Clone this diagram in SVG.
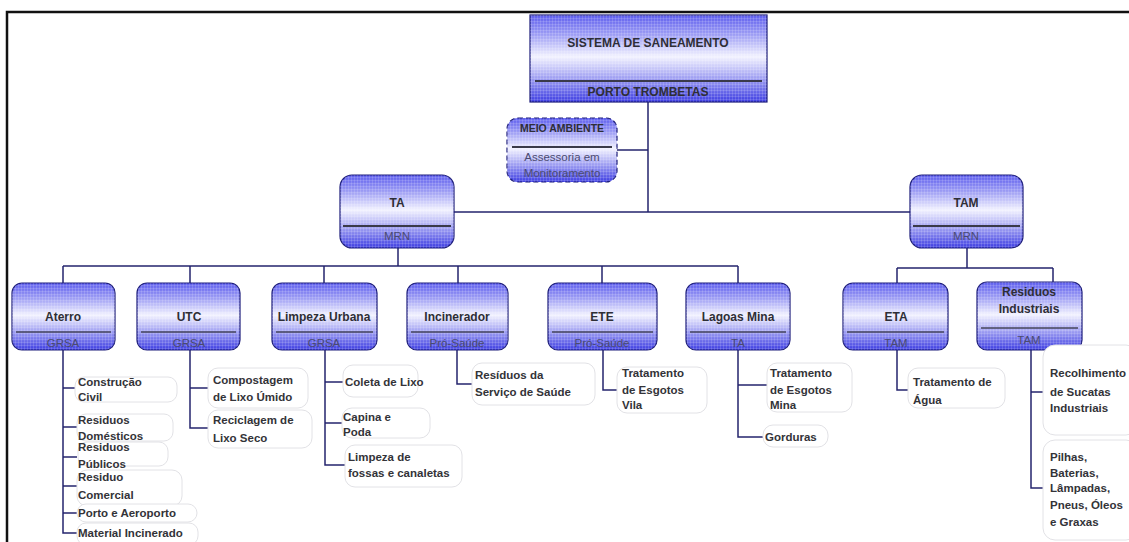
<svg xmlns="http://www.w3.org/2000/svg" width="1129" height="542" viewBox="0 0 1129 542">
<defs>
<linearGradient id="g" x1="0" y1="0" x2="0" y2="1">
<stop offset="0" stop-color="#5e5eee"/>
<stop offset="0.22" stop-color="#9c9cf4"/>
<stop offset="0.48" stop-color="#f2f2ff"/>
<stop offset="0.62" stop-color="#c4c4f8"/>
<stop offset="1" stop-color="#3e3ee2"/>
</linearGradient>
<pattern id="chk" width="3" height="3" patternUnits="userSpaceOnUse">
<rect width="1" height="3" fill="#ffffff" opacity="0.14"/>
<rect width="3" height="1" fill="#ffffff" opacity="0.14"/>
</pattern>
<style>
.box{fill:url(#g);stroke:#1c1c7a;stroke-width:1.2}
.tex{fill:url(#chk);stroke:none}
.div{stroke:#3a3a4a;stroke-width:2}
.div2{stroke:#44445a;stroke-width:1.3}
.t{font-family:"Liberation Sans",Arial,sans-serif;font-weight:bold;fill:#2e2e36;text-anchor:middle}
.s{font-family:"Liberation Sans",Arial,sans-serif;fill:#4a4a70;text-anchor:middle;font-size:11.5px}
.lf{fill:#ffffff;stroke:#e2e2e6;stroke-width:1}
.lt{font-family:"Liberation Sans",Arial,sans-serif;font-weight:bold;fill:#333338;font-size:11.5px}
.c{fill:none;stroke:#24246e;stroke-width:1.5}
</style>
</defs>
<rect width="1129" height="542" fill="#ffffff"/>
<path d="M7,542 V12 H1129" fill="none" stroke="#111" stroke-width="2.5"/>

<g id="connectors">
<path class="c" d="M648,102 V212 M617,150 H648 M454,212 H910"/>
<path class="c" d="M398,248 V266 M63,266 H738 M63,266 V283 M190,266 V283 M324,266 V283 M458,266 V283 M602,266 V283 M738,266 V283"/>
<path class="c" d="M967,248 V268 M897,268 H1053 M897,268 V283 M1053,268 V282"/>
<path class="c" d="M63,348 V533 H77 M63,388 H77 M63,427 H77 M63,457 H77 M63,486 H77 M63,513 H77"/>
<path class="c" d="M190,348 V428 H208 M190,388 H208"/>
<path class="c" d="M325,350 V465 H345 M325,382 H343 M325,423 H342"/>
<path class="c" d="M457,350 V384 H473"/>
<path class="c" d="M603,350 V390 H620"/>
<path class="c" d="M738,350 V437 H763 M738,385 H767"/>
<path class="c" d="M897,350 V390 H910"/>
<path class="c" d="M1031,350 V488 H1043 M1031,392 H1043"/>
</g>

<g id="sistema">
<rect class="box" x="530" y="15" width="237" height="87"/>
<rect class="tex" x="530" y="15" width="237" height="87"/>
<line class="div" x1="535" y1="81" x2="762" y2="81"/>
<text class="t" x="648" y="47" font-size="12">SISTEMA DE SANEAMENTO</text>
<text class="t" x="648" y="96" font-size="12" fill="#3a3a50">PORTO TROMBETAS</text>
</g>

<g id="meio-ambiente">
<rect class="box" x="507" y="118" width="110" height="64" rx="11" stroke-dasharray="5,3"/>
<rect class="tex" x="507" y="118" width="110" height="64" rx="11"/>
<line class="div" x1="512" y1="147" x2="612" y2="147"/>
<text class="t" x="562" y="132" font-size="10.5">MEIO AMBIENTE</text>
<text class="s" x="562" y="161" font-size="10" fill="#33334a">Assessoria em</text>
<text class="s" x="562" y="177" font-size="10" fill="#33334a">Monitoramento</text>
</g>

<g id="ta">
<rect class="box" x="340" y="175" width="114" height="73" rx="12"/>
<rect class="tex" x="340" y="175" width="114" height="73" rx="12"/>
<line class="div" x1="343" y1="226" x2="451" y2="226"/>
<text class="t" x="397" y="207" font-size="12">TA</text>
<text class="s" x="397" y="240">MRN</text>
</g>

<g id="tam">
<rect class="box" x="910" y="175" width="113" height="73" rx="12"/>
<rect class="tex" x="910" y="175" width="113" height="73" rx="12"/>
<line class="div" x1="913" y1="226" x2="1020" y2="226"/>
<text class="t" x="966" y="207" font-size="12">TAM</text>
<text class="s" x="966" y="240">MRN</text>
</g>

<g id="aterro">
<rect class="box" x="12" y="283" width="103" height="67" rx="10"/>
<rect class="tex" x="12" y="283" width="103" height="67" rx="10"/>
<line class="div2" x1="16" y1="332" x2="111" y2="332"/>
<text class="t" x="63" y="321" font-size="12">Aterro</text>
<text class="s" x="63" y="347">GRSA</text>
</g>

<g id="utc">
<rect class="box" x="137" y="283" width="103" height="67" rx="10"/>
<rect class="tex" x="137" y="283" width="103" height="67" rx="10"/>
<line class="div2" x1="141" y1="332" x2="236" y2="332"/>
<text class="t" x="189" y="321" font-size="12">UTC</text>
<text class="s" x="189" y="347">GRSA</text>
</g>

<g id="limpeza-urbana">
<rect class="box" x="272" y="283" width="105" height="67" rx="10"/>
<rect class="tex" x="272" y="283" width="105" height="67" rx="10"/>
<line class="div2" x1="276" y1="332" x2="373" y2="332"/>
<text class="t" x="324" y="321" font-size="12">Limpeza Urbana</text>
<text class="s" x="324" y="347">GRSA</text>
</g>

<g id="incinerador">
<rect class="box" x="407" y="283" width="101" height="67" rx="10"/>
<rect class="tex" x="407" y="283" width="101" height="67" rx="10"/>
<line class="div2" x1="411" y1="332" x2="504" y2="332"/>
<text class="t" x="457" y="321" font-size="12">Incinerador</text>
<text class="s" x="457" y="347">Pró-Saúde</text>
</g>

<g id="ete">
<rect class="box" x="548" y="283" width="109" height="67" rx="10"/>
<rect class="tex" x="548" y="283" width="109" height="67" rx="10"/>
<line class="div2" x1="552" y1="332" x2="653" y2="332"/>
<text class="t" x="602" y="321" font-size="12">ETE</text>
<text class="s" x="602" y="347">Pró-Saúde</text>
</g>

<g id="lagoas-mina">
<rect class="box" x="686" y="283" width="104" height="67" rx="10"/>
<rect class="tex" x="686" y="283" width="104" height="67" rx="10"/>
<line class="div2" x1="690" y1="332" x2="786" y2="332"/>
<text class="t" x="738" y="321" font-size="12">Lagoas Mina</text>
<text class="s" x="738" y="347">TA</text>
</g>

<g id="eta">
<rect class="box" x="843" y="283" width="105" height="67" rx="10"/>
<rect class="tex" x="843" y="283" width="105" height="67" rx="10"/>
<line class="div2" x1="847" y1="332" x2="944" y2="332"/>
<text class="t" x="896" y="321" font-size="12">ETA</text>
<text class="s" x="896" y="347">TAM</text>
</g>

<g id="residuos-industriais">
<rect class="box" x="977" y="282" width="105" height="68" rx="10"/>
<rect class="tex" x="977" y="282" width="105" height="68" rx="10"/>
<line class="div2" x1="981" y1="328" x2="1078" y2="328"/>
<text class="t" x="1029" y="296" font-size="12">Residuos</text>
<text class="t" x="1029" y="313" font-size="12">Industriais</text>
<text class="s" x="1029" y="344">TAM</text>
</g>

<g id="leaf-construcao">
<rect class="lf" x="75" y="377" width="102" height="25" rx="9"/>
<text class="lt" x="78" y="386">Construção</text>
<text class="lt" x="78" y="401">Civil</text>
</g>
<g id="leaf-domesticos">
<rect class="lf" x="77" y="414" width="96" height="27" rx="9"/>
<text class="lt" x="78" y="424">Residuos</text>
<text class="lt" x="78" y="440">Domésticos</text>
</g>
<g id="leaf-publicos">
<rect class="lf" x="78" y="442" width="90" height="24" rx="9"/>
<text class="lt" x="78" y="451">Residuos</text>
<text class="lt" x="78" y="468">Públicos</text>
</g>
<g id="leaf-comercial">
<rect class="lf" x="77" y="470" width="105" height="36" rx="10"/>
<text class="lt" x="78" y="481">Residuo</text>
<text class="lt" x="78" y="499">Comercial</text>
</g>
<g id="leaf-porto">
<rect class="lf" x="77" y="504" width="120" height="18" rx="9"/>
<text class="lt" x="78" y="517">Porto e Aeroporto</text>
</g>
<g id="leaf-material">
<rect class="lf" x="77" y="523" width="121" height="22" rx="9"/>
<text class="lt" x="78" y="537">Material Incinerado</text>
</g>

<g id="leaf-compostagem">
<rect class="lf" x="208" y="368" width="100" height="40" rx="10"/>
<text class="lt" x="213" y="384">Compostagem</text>
<text class="lt" x="213" y="401">de Lixo Úmido</text>
</g>
<g id="leaf-reciclagem">
<rect class="lf" x="208" y="410" width="104" height="38" rx="10"/>
<text class="lt" x="213" y="424">Reciclagem de</text>
<text class="lt" x="213" y="442">Lixo Seco</text>
</g>

<g id="leaf-coleta">
<rect class="lf" x="343" y="365" width="75" height="32" rx="10"/>
<text class="lt" x="345" y="386">Coleta de Lixo</text>
</g>
<g id="leaf-capina">
<rect class="lf" x="342" y="408" width="88" height="30" rx="10"/>
<text class="lt" x="343" y="421">Capina e</text>
<text class="lt" x="343" y="436">Poda</text>
</g>
<g id="leaf-fossas">
<rect class="lf" x="345" y="445" width="117" height="42" rx="10"/>
<text class="lt" x="348" y="461">Limpeza de</text>
<text class="lt" x="348" y="477">fossas e canaletas</text>
</g>

<g id="leaf-servico-saude">
<rect class="lf" x="472" y="363" width="123" height="42" rx="10"/>
<text class="lt" x="475" y="379">Resíduos da</text>
<text class="lt" x="475" y="396">Serviço de Saúde</text>
</g>

<g id="leaf-esgotos-vila">
<rect class="lf" x="617" y="367" width="90" height="46" rx="10"/>
<text class="lt" x="622" y="377">Tratamento</text>
<text class="lt" x="622" y="394">de Esgotos</text>
<text class="lt" x="622" y="409">Vila</text>
</g>

<g id="leaf-esgotos-mina">
<rect class="lf" x="767" y="363" width="85" height="49" rx="10"/>
<text class="lt" x="770" y="377">Tratamento</text>
<text class="lt" x="770" y="394">de Esgotos</text>
<text class="lt" x="770" y="409">Mina</text>
</g>
<g id="leaf-gorduras">
<rect class="lf" x="763" y="425" width="65" height="22" rx="10"/>
<text class="lt" x="765" y="441">Gorduras</text>
</g>

<g id="leaf-agua">
<rect class="lf" x="908" y="368" width="97" height="40" rx="10"/>
<text class="lt" x="913" y="386">Tratamento de</text>
<text class="lt" x="913" y="404">Água</text>
</g>

<g id="leaf-sucatas">
<rect class="lf" x="1043" y="345" width="95" height="90" rx="12"/>
<text class="lt" x="1050" y="377">Recolhimento</text>
<text class="lt" x="1050" y="396">de Sucatas</text>
<text class="lt" x="1050" y="412">Industriais</text>
</g>
<g id="leaf-pilhas">
<rect class="lf" x="1043" y="440" width="95" height="100" rx="12"/>
<text class="lt" x="1050" y="461">Pilhas,</text>
<text class="lt" x="1050" y="477">Baterias,</text>
<text class="lt" x="1050" y="492">Lâmpadas,</text>
<text class="lt" x="1050" y="509">Pneus, Óleos</text>
<text class="lt" x="1050" y="526">e Graxas</text>
</g>
</svg>
